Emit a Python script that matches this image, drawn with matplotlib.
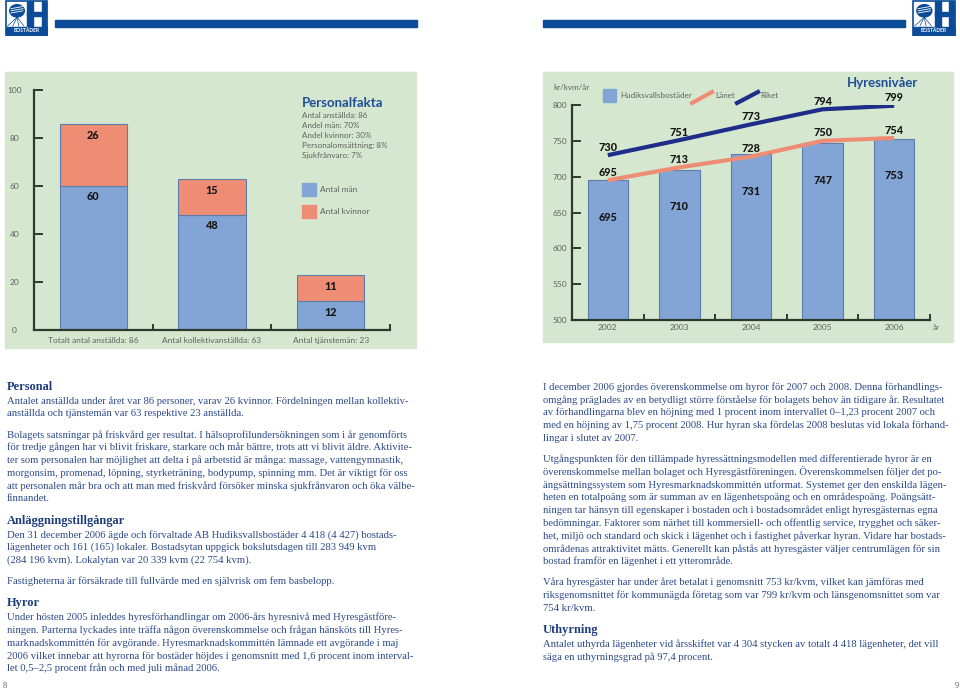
import matplotlib.pyplot as plt
from matplotlib.patches import Rectangle, Circle
from matplotlib.lines import Line2D

plt.rcParams['font.family'] = ['Lato', 'DejaVu Sans']

# --- data ---
staff_cats = ['Totalt antal anställda: 86', 'Antal kollektivanställda: 63', 'Antal tjänstemän: 23']
staff_men = [60, 48, 12]
staff_women = [26, 15, 11]
staff_facts = ['Antal anställda: 86', 'Andel män: 70%', 'Andel kvinnor: 30%',
               'Personalomsättning: 8%', 'Sjukfrånvaro: 7%']

years = ['2002', '2003', '2004', '2005', '2006']
rent_hb = [695, 710, 731, 747, 753]
rent_lanet = [695, 713, 728, 750, 754]
rent_riket = [730, 751, 773, 794, 799]

left_text = [
    ('h', 'Personal'),
    ('p', ['Antalet anställda under året var 86 personer, varav 26 kvinnor. Fördelningen mellan kollektiv-',
           'anställda och tjänstemän var 63 respektive 23 anställda.']),
    ('p', ['Bolagets satsningar på friskvård ger resultat. I hälsoprofilundersökningen som i år genomförts',
           'för tredje gången har vi blivit friskare, starkare och mår bättre, trots att vi blivit äldre. Aktivite-',
           'ter som personalen har möjlighet att delta i på arbetstid är många: massage, vattengymnastik,',
           'morgonsim, promenad, löpning, styrketräning, bodypump, spinning mm. Det är viktigt för oss',
           'att personalen mår bra och att man med friskvård försöker minska sjukfrånvaron och öka välbe-',
           'finnandet.']),
    ('h', 'Anläggningstillgångar'),
    ('p', ['Den 31 december 2006 ägde och förvaltade AB Hudiksvallsbostäder 4 418 (4 427) bostads-',
           'lägenheter och 161 (165) lokaler. Bostadsytan uppgick bokslutsdagen till 283 949 kvm',
           '(284 196 kvm). Lokalytan var 20 339 kvm (22 754 kvm).']),
    ('p', ['Fastigheterna är försäkrade till fullvärde med en självrisk om fem basbelopp.']),
    ('h', 'Hyror'),
    ('p', ['Under hösten 2005 inleddes hyresförhandlingar om 2006-års hyresnivå med Hyresgästföre-',
           'ningen. Parterna lyckades inte träffa någon överenskommelse och frågan hänsköts till Hyres-',
           'marknadskommittén för avgörande. Hyresmarknadskommittén lämnade ett avgörande i maj',
           '2006 vilket innebar att hyrorna för bostäder höjdes i genomsnitt med 1,6 procent inom interval-',
           'let 0,5–2,5 procent från och med juli månad 2006.']),
]

right_text = [
    ('p', ['I december 2006 gjordes överenskommelse om hyror för 2007 och 2008. Denna förhandlings-',
           'omgång präglades av en betydligt större förståelse för bolagets behov än tidigare år. Resultatet',
           'av förhandlingarna blev en höjning med 1 procent inom intervallet 0–1,23 procent 2007 och',
           'med en höjning av 1,75 procent 2008. Hur hyran ska fördelas 2008 beslutas vid lokala förhand-',
           'lingar i slutet av 2007.']),
    ('p', ['Utgångspunkten för den tillämpade hyressättningsmodellen med differentierade hyror är en',
           'överenskommelse mellan bolaget och Hyresgästföreningen. Överenskommelsen följer det po-',
           'ängsättningssystem som Hyresmarknadskommittén utformat. Systemet ger den enskilda lägen-',
           'heten en totalpoäng som är summan av en lägenhetspoäng och en områdespoäng. Poängsätt-',
           'ningen tar hänsyn till egenskaper i bostaden och i bostadsområdet enligt hyresgästernas egna',
           'bedömningar. Faktorer som närhet till kommersiell- och offentlig service, trygghet och säker-',
           'het, miljö och standard och skick i lägenhet och i fastighet påverkar hyran. Vidare har bostads-',
           'områdenas attraktivitet mätts. Generellt kan påstås att hyresgäster väljer centrumlägen för sin',
           'bostad framför en lägenhet i ett ytterområde.']),
    ('p', ['Våra hyresgäster har under året betalat i genomsnitt 753 kr/kvm, vilket kan jämföras med',
           'riksgenomsnittet för kommunägda företag som var 799 kr/kvm och länsgenomsnittet som var',
           '754 kr/kvm.']),
    ('h', 'Uthyrning'),
    ('p', ['Antalet uthyrda lägenheter vid årsskiftet var 4 304 stycken av totalt 4 418 lägenheter, det vill',
           'säga en uthyrningsgrad på 97,4 procent.']),
]

# --- styles ---
W, H = 960, 693
GREEN = '#D5E8CF'
BLUE = '#82A5D5'
BLUE_EDGE = '#5C7DAD'
SALMON = '#EE8D74'
NAVY = '#1E2C8A'
AXIS = '#2E3A2E'
GREY = '#606060'
TITLE = '#1F4E98'
HEAD = '#1D3C7A'
BODY = '#2C4A8A'
BAR_HDR = '#0B4B97'
LABEL = '#151515'

fig = plt.figure(figsize=(9.6, 6.93), dpi=100)


def box(x, y, w, h):
    # pixel box (top-left origin) -> figure fraction rect
    return [x / W, 1 - (y + h) / H, w / W, h / H]


def fx(x):
    return x / W


def fy(y):
    return 1 - y / H


def fig_rect(x, y, w, h, color, z=-1):
    fig.patches.append(Rectangle((x / W, 1 - (y + h) / H), w / W, h / H,
                                 transform=fig.transFigure, color=color, zorder=z))


def logo(x, y, w, h):
    a = fig.add_axes(box(x, y, w, h))
    a.set_xlim(0, 1)
    a.set_ylim(0, 1)
    a.axis('off')
    a.add_patch(Rectangle((0.02, 0.02), 0.96, 0.96, facecolor='white', edgecolor=BAR_HDR, lw=1.2))
    a.add_patch(Rectangle((0.02, 0.02), 0.96, 0.24, color=BAR_HDR))
    a.text(0.5, 0.14, 'BOSTÄDER', color='white', fontsize=3.6, fontweight='bold', ha='center', va='center')
    a.add_patch(Rectangle((0.52, 0.26), 0.13, 0.70, color=BAR_HDR))
    a.add_patch(Rectangle((0.52, 0.55), 0.44, 0.11, color=BAR_HDR))
    a.add_patch(Rectangle((0.85, 0.26), 0.11, 0.70, color=BAR_HDR))
    a.add_patch(Circle((0.28, 0.70), 0.17, color=BAR_HDR))
    for k in range(3):
        a.plot([0.14, 0.42], [0.64 + k * 0.06, 0.70 + k * 0.06], color='white', lw=0.6)
    for xe in [0.06, 0.18, 0.32, 0.44]:
        a.plot([0.28, xe], [0.52, 0.28], color=BAR_HDR, lw=0.5)


# --- page header ---
logo(5, 0, 43, 36)
logo(912, 0, 44, 36)
fig_rect(55, 20, 362, 7, BAR_HDR)
fig_rect(543, 20, 362, 7, BAR_HDR)

# --- green panels ---
fig_rect(5, 72, 411, 276, GREEN)
fig_rect(543, 72, 410, 270, GREEN)


def style_axis(ax, ypad):
    ax.set_facecolor('none')
    for s in ['top', 'right']:
        ax.spines[s].set_visible(False)
    for s in ['left', 'bottom']:
        ax.spines[s].set_color(AXIS)
        ax.spines[s].set_linewidth(1.6)
    ax.tick_params(axis='y', direction='in', length=6.5, width=1.4, color=AXIS,
                   labelsize=6, labelcolor=GREY, pad=ypad)
    ax.tick_params(axis='x', which='major', length=0, labelsize=6, labelcolor=GREY)
    ax.tick_params(axis='x', which='minor', direction='in', length=4.5, width=1.4, color=AXIS)
    for lab in ax.get_yticklabels():
        lab.set_ha('center')


def value_label(ax, x, y, v):
    ax.text(x, y, str(v), ha='center', va='center', fontsize=7.8,
            fontweight='black', color=LABEL, clip_on=False)


# --- left chart: staff ---
ax1 = fig.add_axes(box(34, 90, 356, 240))
xs = range(len(staff_cats))
ax1.bar(xs, staff_men, width=0.565, color=BLUE, edgecolor=BLUE_EDGE, lw=0.8)
ax1.bar(xs, staff_women, width=0.565, bottom=staff_men, color=SALMON, edgecolor=BLUE_EDGE, lw=0.8)
ax1.set_xlim(-0.5, len(staff_cats) - 0.5)
ax1.set_ylim(0, 100)
ax1.set_yticks(range(0, 101, 20))
ax1.set_xticks(list(xs))
ax1.set_xticklabels(staff_cats)
ax1.set_xticks([i + 0.5 for i in xs], minor=True)
style_axis(ax1, 14)
ax1.tick_params(axis='x', which='major', pad=5)
for i in xs:
    value_label(ax1, i, staff_men[i] - 4.5, staff_men[i])
    value_label(ax1, i, staff_men[i] + staff_women[i] - 5, staff_women[i])

fig.text(fx(302), fy(103), 'Personalfakta', fontsize=9.5, fontweight='bold', color=TITLE, va='center')
for k, line in enumerate(staff_facts):
    fig.text(fx(302), fy(116 + k * 9.8), line, fontsize=5.8, color=GREY, va='center')
fig_rect(302, 183, 14, 13, BLUE, z=1)
fig_rect(302, 205, 14, 13, SALMON, z=1)
fig.text(fx(320), fy(190), 'Antal män', fontsize=6, color=GREY, va='center')
fig.text(fx(320), fy(211), 'Antal kvinnor', fontsize=6, color=GREY, va='center')

# --- right chart: rent levels ---
ax2 = fig.add_axes(box(572, 105, 358, 215))
xs2 = range(len(years))
ax2.bar(xs2, rent_hb, width=0.565, color=BLUE, edgecolor=BLUE_EDGE, lw=0.8)
ax2.plot(xs2, rent_lanet, color=SALMON, lw=3, solid_capstyle='butt')
ax2.plot(xs2, rent_riket, color=NAVY, lw=3, solid_capstyle='butt')
ax2.set_xlim(-0.5, len(years) - 0.5)
ax2.set_ylim(500, 800)
ax2.set_yticks(range(500, 801, 50))
ax2.set_xticks(list(xs2))
ax2.set_xticklabels(years)
ax2.set_xticks([i + 0.5 for i in xs2], minor=True)
style_axis(ax2, 8.5)
ax2.tick_params(axis='x', which='major', pad=3)
for i in xs2:
    value_label(ax2, i, rent_hb[i] - 52, rent_hb[i])
    value_label(ax2, i, rent_lanet[i] + 11, rent_lanet[i])
    value_label(ax2, i, rent_riket[i] + 11, rent_riket[i])

fig.text(fx(883), fy(83), 'Hyresnivåer', fontsize=9.5, fontweight='bold', color=TITLE, ha='center', va='center')
fig.text(fx(553), fy(88), 'kr/kvm/år', fontsize=5.8, color=GREY, va='center')
fig.text(fx(933), fy(327), 'år', fontsize=5.8, color=GREY, va='center')
fig_rect(603, 89, 13, 13, BLUE, z=1)
fig.text(fx(620), fy(96), 'Hudiksvallsbostäder', fontsize=5.8, color=GREY, va='center')
fig.add_artist(Line2D([fx(692), fx(712)], [fy(103), fy(92)], color=SALMON, lw=3))
fig.text(fx(715), fy(96), 'Länet', fontsize=5.8, color=GREY, va='center')
fig.add_artist(Line2D([fx(737), fx(758)], [fy(103), fy(92)], color=NAVY, lw=3))
fig.text(fx(760), fy(96), 'Riket', fontsize=5.8, color=GREY, va='center')


# --- body text ---
def write_column(x, y, blocks):
    prev = None
    for kind, content in blocks:
        if prev == 'h':
            y += 14
        elif prev == 'p':
            y += 22 if kind == 'h' else 21
        if kind == 'h':
            fig.text(fx(x), fy(y), content, family='Liberation Serif', fontsize=8.9,
                     fontweight='bold', color=HEAD, va='center')
        else:
            for k, line in enumerate(content):
                fig.text(fx(x), fy(y + k * 12.8), line, family='Liberation Serif', fontsize=7.7,
                         color=BODY, va='center')
            y += (len(content) - 1) * 12.8
        prev = kind


write_column(7, 387, left_text)
write_column(543, 387, right_text)

fig.text(fx(3), fy(686), '8', family='Liberation Serif', fontsize=6, color=GREY, va='center')
fig.text(fx(955), fy(686), '9', family='Liberation Serif', fontsize=6, color=GREY, va='center')

fig.savefig('out.png', dpi=100)
